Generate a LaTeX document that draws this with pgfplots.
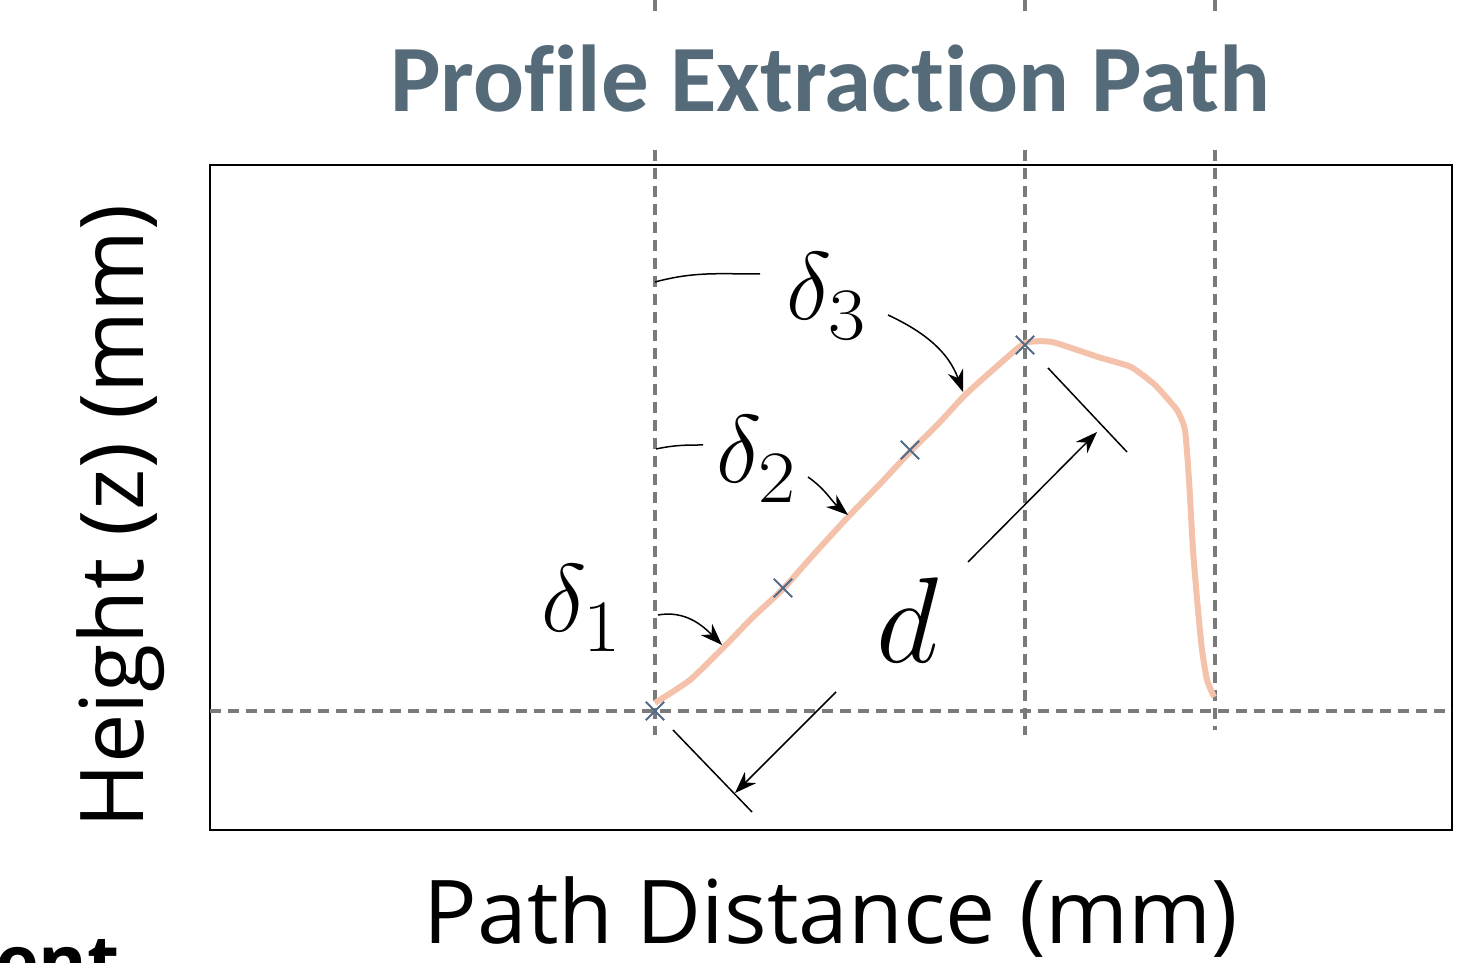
\RequirePackage{fix-cm}
\documentclass[border=0pt]{standalone}
\usepackage{fontspec}
\setmainfont{Open Sans}
\newfontfamily\titlefont[Ligatures=NoCommon]{Carlito}
\newfontfamily\entfont{Open Sans}
\usepackage{pgfplots}
\pgfplotsset{compat=1.18}
\usetikzlibrary{arrows.meta}
\definecolor{titlecol}{HTML}{566B79}
\definecolor{curvecol}{HTML}{F4C2AB}
\definecolor{crosscol}{HTML}{4F6B8A}
\definecolor{dashcol}{HTML}{7A7A7A}
\newcommand{\bigsub}[1]{\raisebox{-0.05em}{\scalebox{1.2}[1.1]{$\scriptstyle #1$}}}
\begin{document}
\begin{tikzpicture}
\useasboundingbox (0,0) rectangle (734pt,481.5pt);
\clip (0,0) rectangle (734pt,481.5pt);
\node[anchor=base east, inner sep=0pt, font=\entfont\bfseries\fontsize{37}{37}\selectfont] at (60pt,-13pt) {ent};
\begin{axis}[
  at={(105pt,66.5pt)}, anchor=south west,
  scale only axis, width=621pt, height=332.5pt,
  xmin=210, xmax=1452, ymin=133, ymax=798,
  xtick=\empty, ytick=\empty,
  axis line style={line width=1.4pt, black},
  clip=false,
  title={\titlefont\bfseries Profile Extraction Path},
  title style={at={(axis description cs:0.4992,1.0617)}, anchor=base, font=\fontsize{47.5}{47.5}\selectfont, color=titlecol},
  xlabel={\scalebox{1.015}[1]{Path Distance (mm)}},
  xlabel style={at={(axis description cs:0.5,-0.170)}, anchor=base, font=\fontsize{44}{44}\selectfont},
  ylabel={Height (z) (mm)},
  ylabel style={at={(axis description cs:-0.0539,0.4714)}, anchor=base, rotate=0, font=\fontsize{44}{44}\selectfont},
]
% reference dashed lines
\draw[dashcol, line width=1.6pt, dash pattern=on 5.5pt off 3.5pt] (210,252) -- (1452,252);
\draw[dashcol, line width=1.6pt, dash pattern=on 5.5pt off 3.5pt] (655,963) -- (655,952);
\draw[dashcol, line width=1.6pt, dash pattern=on 5.5pt off 3.5pt] (655,813) -- (655,228);
\draw[dashcol, line width=1.6pt, dash pattern=on 5.5pt off 3.5pt] (1025,963) -- (1025,950);
\draw[dashcol, line width=1.6pt, dash pattern=on 5.5pt off 3.5pt] (1025,813) -- (1025,228);
\draw[dashcol, line width=1.6pt, dash pattern=on 5.5pt off 3.5pt] (1215,963) -- (1215,950);
\draw[dashcol, line width=1.6pt, dash pattern=on 5.5pt off 3.5pt] (1215,813) -- (1215,233);
% profile curve
\addplot[curvecol, line width=3pt, smooth, tension=0.3, no marks] coordinates {
(655,260) (690,283) (724,316) (752,345) (782,373) (815,410) (848,446)
(880,479) (909,510) (940,541) (965,568) (995,595) (1025,620)
(1052,621) (1098,606) (1131,596) (1155,578) (1177,553) (1185,533)
(1189,483) (1193,413) (1198,353) (1202,313) (1207,283) (1214,266)
};
% sample points
\addplot[only marks, mark=x, mark size=6.5pt, crosscol, mark options={line width=1pt}] coordinates {
(655,252) (783,375) (910,513) (1025,618)
};
% annotations
\draw[line width=0.75pt, -{Stealth[length=11pt,width=8pt]}] (658,348) to[out=10,in=135] (722,318);
\draw[line width=0.75pt] (656,514) to[out=12,in=180] (703,518);
\draw[line width=0.75pt, -{Stealth[length=11pt,width=8pt]}] (808,486) to[out=-35,in=140] (848,448);
\draw[line width=0.75pt] (655,681) to[out=15,in=180] (760,689);
\draw[line width=0.75pt, -{Stealth[length=11pt,width=8pt]}] (888,648) to[out=-25,in=110] (963,571);
\node[anchor=base west, inner sep=0pt, font=\fontsize{48}{48}\selectfont] at (541,331) {$\delta_{\bigsub{1}}$};
\node[anchor=base west, inner sep=0pt, font=\fontsize{48}{48}\selectfont] at (716,480) {$\delta_{\bigsub{2}}$};
\node[anchor=base west, inner sep=0pt, font=\fontsize{48}{48}\selectfont] at (786,643) {$\delta_{\bigsub{3}}$};
\node[anchor=base west, inner sep=0pt, font=\fontsize{61}{61}\selectfont] at (876,300) {$d$};
% dimension lines
\draw[line width=0.75pt] (1048,595) -- (1127,511);
\draw[line width=0.75pt, -{Stealth[length=11pt,width=8pt]}] (968,401) -- (1097,531);
\draw[line width=0.75pt] (673,233) -- (752,151);
\draw[line width=0.75pt, -{Stealth[length=11pt,width=8pt]}] (836,271) -- (735,170);
\end{axis}
\end{tikzpicture}
\end{document}
